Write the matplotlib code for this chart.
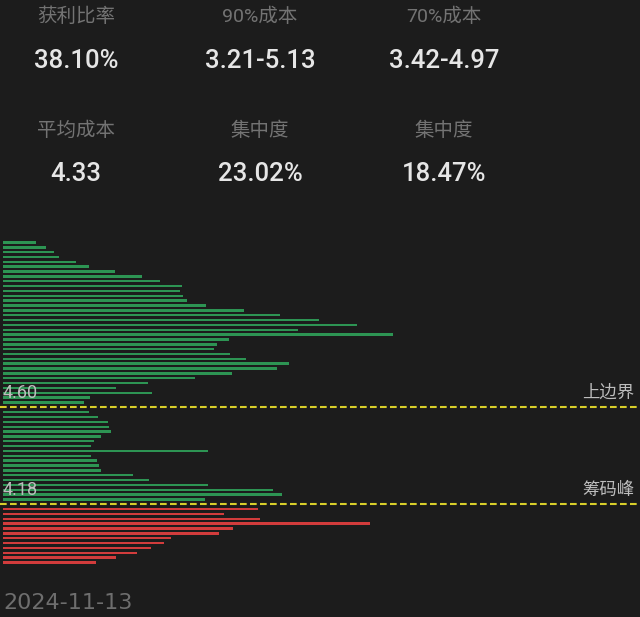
import numpy as np
import matplotlib
matplotlib.use("Agg")
import matplotlib.pyplot as plt

# chip distribution (bar lengths, px-like units), top to bottom
upper_green = [33, 43, 51, 56, 73, 86, 112, 139, 157, 179, 177, 180, 184, 203, 241, 277, 316,
               354, 295, 390, 226, 214, 211, 227, 243, 286, 274, 229, 192, 145, 113, 149, 87, 81]
mid_green = [86, 95, 105, 106, 108, 98, 91, 88, 205, 88, 94, 96, 98, 130, 146, 205, 270, 279, 202]
red_below = [255, 221, 257, 367, 230, 216, 168, 161, 148, 134, 113, 93]

upper_line = 4.60
peak_line = 4.18
step = 0.021

stat_labels = ["获利比率", "90%成本", "70%成本", "平均成本", "集中度", "集中度"]
stat_values = ["38.10%", "3.21-5.13", "3.42-4.97", "4.33", "23.02%", "18.47%"]
date_text = "2024-11-13"

bg = "#1c1c1c"
green = "#2d9453"
red = "#d23c3c"
yellow = "#d8cf2a"

fig = plt.figure(figsize=(6.4, 6.17), dpi=100, facecolor=bg)
ax = fig.add_axes([0, 0, 1, 1])
ax.set_facecolor(bg)

p_up = upper_line + step * np.arange(len(upper_green), 0, -1)
p_mid = upper_line - step * np.arange(1, len(mid_green) + 1)
p_red = peak_line - step * np.arange(1, len(red_below) + 1)

h = step * 0.5
ax.barh(p_up, upper_green, height=h, color=green)
ax.barh(p_mid, mid_green, height=h, color=green)
ax.barh(p_red, red_below, height=h, color=red)

for y in (upper_line, peak_line):
    ax.axhline(y, color=yellow, lw=1.5, linestyle=(0, (3.2, 1.6)))

ax.set_xlim(-3, 637)
ax.set_ylim(3.692, 6.364)
ax.axis("off")

fams = ["Roboto", "Noto Sans CJK SC", "DejaVu Sans"]
H = 617.0

def fy(px):
    return 1 - px / H

# price line labels
fig.text(3 / 640, fy(393), "4.60", color="#bdbdbd", fontsize=13, family=fams, va="center", ha="left")
fig.text(3 / 640, fy(490), "4.18", color="#bdbdbd", fontsize=13, family=fams, va="center", ha="left")
fig.text(634 / 640, fy(393), "上边界", color="#bdbdbd", fontsize=12.5, family=fams, va="center", ha="right")
fig.text(634 / 640, fy(490), "筹码峰", color="#bdbdbd", fontsize=12.5, family=fams, va="center", ha="right")

# stats block
cols = [76, 260, 444]
label_rows = [17, 131]
value_rows = [61, 174]
for i, (lab, val) in enumerate(zip(stat_labels, stat_values)):
    c = cols[i % 3]
    r = i // 3
    fig.text(c / 640, fy(label_rows[r]), lab, color="#737373", fontsize=14, family=fams,
             ha="center", va="center")
    fig.text(c / 640, fy(value_rows[r]), val, color="#e6e6e6", fontsize=18.5, family=fams,
             fontweight="medium", ha="center", va="center")

fig.text(3 / 640, fy(603), date_text, color="#6e6e6e", fontsize=16, family="DejaVu Sans",
         ha="left", va="center")

fig.savefig("out.png", dpi=100, facecolor=bg)
